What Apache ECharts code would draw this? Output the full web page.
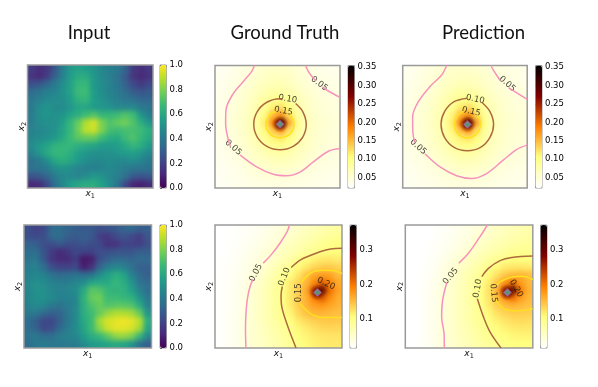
<!DOCTYPE html>
<html><head><meta charset="utf-8">
<style>html,body{margin:0;padding:0;background:#fff}#c{width:598px;height:387px}</style>
<script src="https://cdn.jsdelivr.net/npm/echarts@6/dist/echarts.min.js"></script>
</head><body><div id="c"></div>
<script>
// Values. Input grids in hundredths, field grids in thousandths. Top row first.
const input1=[
[18,13,16,27,43,53,57,55,51,47,43,41,32,17,13,17],
[15,11,18,31,43,55,61,61,53,47,43,37,28,15,11,15],
[24,27,33,41,49,57,66,66,53,49,45,39,31,22,17,22],
[35,39,43,45,51,57,68,68,55,49,45,41,35,29,26,29],
[39,43,47,49,49,55,64,66,55,51,47,43,39,37,33,33],
[40,48,52,48,48,52,58,58,54,52,50,46,46,46,40,38],
[42,50,52,50,52,58,62,68,72,66,66,68,72,68,52,42],
[42,48,50,50,56,66,76,88,94,80,72,76,78,72,62,52],
[44,46,48,50,58,66,78,90,92,80,70,68,70,70,68,62],
[46,48,50,54,60,68,74,76,76,68,62,60,68,72,66,60],
[48,54,58,64,66,66,62,60,58,54,54,56,60,66,62,54],
[44,52,60,66,66,62,56,52,50,50,50,52,54,56,52,46],
[37,41,49,59,63,59,53,49,47,47,49,47,47,49,45,41],
[37,39,41,49,51,49,45,43,43,45,47,45,41,39,39,37],
[26,28,33,41,47,47,45,49,53,51,47,43,37,28,26,28],
[11,13,22,37,47,55,59,62,62,57,49,39,22,11,9,13]];
const input2=[
[24,20,22,34,36,32,30,28,28,24,26,28,32,34,30,30],
[24,22,24,34,36,30,28,30,28,18,16,22,26,22,18,26],
[32,30,24,24,28,24,24,26,24,22,14,14,20,20,18,24],
[36,36,26,18,12,16,22,20,20,24,24,26,26,26,30,30],
[38,40,28,16,12,12,18,6,8,24,30,34,34,32,34,34],
[42,44,36,24,20,20,22,8,14,32,42,46,44,38,30,30],
[44,46,44,38,34,36,38,36,38,48,56,62,58,44,34,30],
[46,50,48,44,42,42,46,48,58,60,60,66,62,52,38,34],
[46,50,50,46,44,46,48,60,74,72,66,64,64,56,44,36],
[46,50,50,48,44,44,46,64,76,78,68,68,66,64,52,40],
[44,48,46,40,38,42,46,62,72,76,72,74,74,72,62,44],
[40,40,34,30,32,40,46,62,68,76,84,88,88,86,76,52],
[36,30,22,22,30,40,48,60,68,86,94,96,98,96,90,62],
[36,32,22,24,34,42,48,58,68,82,92,96,96,94,86,58],
[38,40,36,36,42,44,46,54,62,66,74,82,84,80,66,46],
[36,40,42,40,40,42,42,48,54,56,58,60,58,52,38,30]];
const truth1=[
[31,33,37,42,47,52,56,58,58,55,50,46,41,38,36,35],
[32,35,39,44,49,55,60,63,63,60,54,48,43,40,38,37],
[34,37,41,47,52,60,66,70,70,66,58,52,46,42,40,39],
[35,38,44,50,57,66,75,80,80,76,66,56,50,45,43,41],
[36,40,46,52,60,72,84,94,97,88,74,62,54,49,45,43],
[36,41,47,54,64,78,95,115,125,105,82,66,56,50,46,44],
[37,43,49,56,66,84,108,150,175,125,90,70,58,52,48,45],
[38,44,50,58,68,86,118,190,330,165,98,72,60,54,50,47],
[37,43,49,56,66,84,108,145,170,125,90,70,59,52,49,47],
[36,41,47,54,64,78,95,112,120,104,82,66,58,52,48,46],
[35,40,45,52,60,70,83,92,96,88,74,64,56,50,47,45],
[34,38,42,48,56,63,72,78,80,76,66,59,53,48,45,43],
[33,36,39,44,51,57,62,67,68,65,60,54,49,45,43,41],
[31,34,37,41,46,50,54,57,58,56,52,48,44,42,40,38],
[30,33,36,38,42,45,46,48,48,47,45,43,41,39,37,36],
[29,32,34,36,38,40,41,42,42,41,40,39,38,36,35,34]];
const pred1=[
[33,36,39,44,48,53,56,57,57,54,50,47,43,41,39,37],
[34,37,42,46,51,56,60,62,62,60,55,50,46,43,40,38],
[36,39,43,48,54,61,66,70,70,66,60,54,48,44,42,40],
[37,41,45,51,58,67,76,82,82,77,67,58,52,47,44,42],
[38,42,48,54,62,73,86,96,99,90,76,64,56,51,46,44],
[39,44,49,56,66,80,98,118,128,108,84,68,58,52,48,46],
[40,45,50,58,68,86,112,155,180,128,92,72,60,54,50,47],
[40,46,51,59,70,88,120,195,330,170,100,74,61,55,51,48],
[40,45,50,58,68,86,112,150,175,128,92,72,60,54,50,48],
[39,44,49,56,66,80,98,116,124,106,84,68,59,53,49,47],
[38,42,47,54,62,72,85,95,98,90,76,65,57,52,48,45],
[37,40,44,51,58,65,74,81,82,78,68,60,54,49,46,44],
[35,38,41,46,53,59,64,69,70,67,61,55,50,46,44,42],
[33,36,39,42,47,52,56,59,59,57,54,50,46,43,41,40],
[31,34,37,39,43,46,48,50,50,49,47,44,42,40,38,37],
[30,33,35,37,39,41,43,44,44,43,42,41,39,37,36,35]];
const truth2=[
[15,16,18,20,23,27,32,37,42,48,54,60,66,72,78,82],
[15,17,19,22,25,29,35,40,47,53,60,67,74,80,86,90],
[16,18,20,23,27,32,38,45,53,61,68,76,84,92,99,102],
[16,18,21,25,30,36,43,51,60,68,76,85,93,100,104,104],
[17,19,22,27,33,40,47,57,67,78,95,106,115,120,122,118],
[17,20,24,29,36,44,53,65,80,96,108,120,132,140,142,135],
[18,21,25,31,39,48,60,74,90,104,122,145,165,172,168,152],
[18,21,26,33,42,52,66,82,96,118,135,155,185,215,190,165],
[18,22,27,35,46,56,68,84,98,120,140,165,230,325,205,170],
[18,22,27,35,46,56,68,84,99,120,140,160,195,220,185,162],
[18,22,27,35,46,56,69,84,98,118,140,158,172,178,168,158],
[18,22,27,36,47,57,70,84,95,112,134,148,158,158,154,150],
[18,22,28,37,47,57,68,80,92,104,120,130,138,142,144,142],
[18,22,28,37,47,56,66,76,86,97,110,118,126,132,134,132],
[17,22,28,37,47,55,64,73,82,93,104,112,118,122,124,124],
[17,22,28,37,47,54,62,70,80,90,100,108,114,118,120,120]];
const pred2=[
[12,13,15,17,20,24,28,33,38,44,50,56,62,67,71,74],
[12,13,15,18,21,25,30,35,41,48,55,61,67,72,76,79],
[12,14,16,19,23,28,33,40,47,55,62,68,74,80,84,86],
[13,14,17,20,25,31,38,46,54,62,70,77,84,90,93,94],
[13,15,18,22,28,36,45,54,63,72,82,92,100,105,106,104],
[14,16,19,24,32,41,51,61,71,82,95,108,118,122,122,120],
[14,16,20,26,35,45,56,67,78,92,108,125,142,152,156,150],
[14,17,21,28,37,47,58,69,82,97,118,145,175,205,175,155],
[15,17,22,29,38,48,59,70,84,100,124,158,235,325,195,160],
[15,17,22,30,39,49,59,71,85,100,122,150,180,205,175,155],
[15,17,22,30,39,49,59,71,84,98,118,138,152,158,154,148],
[15,17,22,30,39,49,59,71,83,95,110,125,135,140,140,138],
[15,17,22,30,39,48,59,70,81,92,103,114,122,128,130,128],
[15,17,22,30,39,48,58,68,78,88,97,106,113,118,120,120],
[14,17,22,30,39,48,57,66,75,84,92,99,105,110,112,112],
[14,17,22,29,38,47,55,63,71,79,86,92,98,102,104,104]];

// Contour lines (x1, x2 from the top of the panel), split where a label interrupts them.
const truth1Contours={
 '0.05':[[[.315,0],[.293,.05],[.227,.13],[.147,.227],[.088,.363],[.085,.473],[.107,.61],[.125,.66]],
         [[.2,.73],[.333,.828],[.467,.888],[.573,.90],[.68,.87],[.787,.787],[.907,.70],[1,.678]],
         [[.725,0],[.747,.05],[.787,.104],[.81,.125]],[[.86,.175],[.893,.2],[1,.26]]],
 '0.10':[[[.645,.31],[.702,.376],[.73,.48],[.702,.584],[.625,.66],[.52,.688],[.415,.66],[.338,.584],[.31,.48],[.338,.376],[.415,.30],[.52,.272],[.54,.272]]],
 '0.15':[[[.60,.40],[.632,.48],[.60,.558],[.52,.59],[.44,.558],[.408,.48],[.44,.40],[.49,.375]]]};
const pred1Contours={
 '0.05':[[[.353,0],[.313,.077],[.219,.172],[.126,.295],[.08,.418],[.08,.5],[.086,.582],[.10,.63]],
         [[.179,.72],[.30,.828],[.433,.90],[.553,.923],[.674,.882],[.807,.773],[.914,.686],[1,.65]],
         [[.709,0],[.727,.036],[.767,.098],[.785,.125]],[[.85,.18],[.90,.213],[1,.276]]],
 '0.10':[[[.635,.30],[.70,.375],[.73,.481],[.70,.588],[.625,.668],[.519,.695],[.413,.668],[.337,.588],[.308,.481],[.337,.375],[.413,.295],[.519,.267]]],
 '0.15':[[[.60,.40],[.623,.481],[.593,.558],[.519,.59],[.445,.558],[.415,.481],[.445,.404],[.495,.373]]]};
const truth2Contours={
 '0.05':[[[.585,0],[.57,.05],[.51,.15],[.44,.245],[.38,.31]],[[.30,.44],[.276,.50],[.255,.60],[.244,.72],[.24,.85],[.244,1]]],
 '0.10':[[[1,.19],[.91,.195],[.827,.217],[.745,.25],[.67,.285],[.60,.345]],[[.53,.50],[.52,.57],[.525,.66],[.57,.815],[.638,1]]],
 '0.15':[[[1,.394],[.93,.37],[.853,.367],[.79,.375],[.748,.394],[.70,.44],[.68,.47]],[[.67,.64],[.735,.707],[.79,.74],[.853,.753],[1,.753]]]};
const pred2Contours={
 '0.05':[[[.644,0],[.586,.095],[.495,.23],[.42,.31]],[[.325,.47],[.293,.61],[.285,.747],[.304,.883],[.306,1]]],
 '0.10':[[[1,.253],[.835,.264],[.743,.29],[.652,.353],[.60,.42]],[[.565,.60],[.613,.747],[.665,.87],[.751,1]]],
 '0.15':[[[1,.443],[.914,.416],[.822,.427],[.743,.462],[.718,.49]],[[.712,.611],[.783,.6875],[.874,.698],[1,.68]]]};

// Contour labels: x1, x2, text, rotation
const truth1Labels=[[.147,.67,'0.05',-42],[.835,.15,'0.05',-36],[.581,.273,'0.10',-10],[.547,.372,'0.15',-10]];
const pred1Labels=[[.125,.665,'0.05',-42],[.84,.15,'0.05',-42],[.583,.276,'0.10',-12],[.551,.377,'0.15',-12]];
const truth2Labels=[[.323,.389,'0.05',62],[.546,.421,'0.10',68],[.656,.552,'0.15',90],[.874,.476,'0.20',-25]];
const pred2Labels=[[.356,.416,'0.05',50],[.568,.516,'0.10',80],[.692,.552,'0.15',-85],[.869,.516,'0.20',-60]];

const inputTicks=[0,0.2,0.4,0.6,0.8,1.0];
const topFieldTicks=[0.05,0.10,0.15,0.20,0.25,0.30,0.35];
const bottomFieldTicks=[0.1,0.2,0.3];
const titles=['Input','Ground Truth','Prediction'];
const viridis=['#440154','#482878','#3e4989','#31688e','#26828e','#1f9e89','#35b779','#6ece58','#b5de2b','#fde725'];
const afmhot=['#ffffff','#ffff80','#ff8000','#800000','#000000'];
const contourColors={'0.05':'#f792bc','0.10':'#ad6a40','0.15':'#ffe020'};

// Layout: panel [left, top, width, height], colour bar [left, width]
const panels=[
 {grid:[27.5,65,125.5,123],bar:[160,6.5],vals:input1,scale:100,vmin:0,vmax:1,ticks:inputTicks,dec:1,colors:viridis},
 {grid:[215,65.5,125,122.5],bar:[348,6.5],vals:truth1,scale:1000,vmin:.022,vmax:.354,ticks:topFieldTicks,dec:2,colors:afmhot,contours:truth1Contours,labels:truth1Labels,peak:[.52,.48]},
 {grid:[402.7,65.5,124.5,122.5],bar:[535.5,6.5],vals:pred1,scale:1000,vmin:.022,vmax:.354,ticks:topFieldTicks,dec:2,colors:afmhot,contours:pred1Contours,labels:pred1Labels,peak:[.519,.481]},
 {grid:[24,225,127.5,123],bar:[160,6.5],vals:input2,scale:100,vmin:0,vmax:1,ticks:inputTicks,dec:1,colors:viridis},
 {grid:[215,225,127,123],bar:[350,6.5],vals:truth2,scale:1000,vmin:.016,vmax:.372,ticks:bottomFieldTicks,dec:1,colors:afmhot,contours:truth2Contours,labels:truth2Labels,peak:[.806,.549]},
 {grid:[405.3,225,127.5,123],bar:[540.5,6.5],vals:pred2,scale:1000,vmin:.016,vmax:.372,ticks:bottomFieldTicks,dec:1,colors:afmhot,contours:pred2Contours,labels:pred2Labels,peak:[.80,.549]}
];

const grids=[],xAxes=[],yAxes=[],series=[],visualMaps=[];
const nameRich={i:{fontFamily:'DejaVu Sans',fontStyle:'italic',fontSize:9,color:'#111'},s:{fontFamily:'DejaVu Sans',fontSize:6.5,color:'#111',verticalAlign:'bottom',padding:[5,0,0,0]}};
const N=16, cats=Array.from({length:N+2},(_,i)=>i);
panels.forEach((p,k)=>{
  const [l,t,w,h]=p.grid, cw=w/N, ch=h/N;
  const hi=grids.length;
  grids.push({left:l-cw,top:t-ch,width:w+2*cw,height:h+2*ch,zlevel:0});
  xAxes.push({gridIndex:hi,type:'category',data:cats,show:false});
  yAxes.push({gridIndex:hi,type:'category',data:cats,inverse:true,show:false});
  const heat=[];
  for(let r=-1;r<=N;r++)for(let c=-1;c<=N;c++){
    const rr=Math.min(N-1,Math.max(0,r)),cc=Math.min(N-1,Math.max(0,c));
    heat.push([c+1,r+1,p.vals[rr][cc]/p.scale]);
  }
  const si=series.length;
  series.push({type:'heatmap',xAxisIndex:hi,yAxisIndex:hi,data:heat,zlevel:0,progressive:0,silent:true});
  visualMaps.push({type:'continuous',seriesIndex:si,min:p.vmin,max:p.vmax,inRange:{color:p.colors,symbolSize:[p.bar[1],p.bar[1]]},show:true,
    left:p.bar[0],top:t,itemWidth:p.bar[1],itemHeight:h,showLabel:false,text:null,calculable:false,realtime:false,zlevel:1,hoverLink:false,padding:0});
  const gi=grids.length;
  grids.push({left:l,top:t,width:w,height:h,show:true,borderColor:'#9a9a9a',borderWidth:1.5,backgroundColor:'transparent',zlevel:1});
  xAxes.push({gridIndex:gi,type:'value',min:0,max:1,position:'bottom',splitLine:{show:false},axisLine:{show:false},axisTick:{show:false},axisLabel:{show:false},zlevel:1,
    name:'{i|x}{s|1}',nameLocation:'middle',nameGap:0,nameTextStyle:{rich:nameRich}});
  yAxes.push({gridIndex:gi,type:'value',min:0,max:1,inverse:true,splitLine:{show:false},axisLine:{show:false},axisTick:{show:false},axisLabel:{show:false},zlevel:1,
    name:'{i|x}{s|2}',nameLocation:'middle',nameGap:0,nameRotate:90,nameTextStyle:{rich:nameRich}});
  if(p.contours){
    Object.keys(p.contours).forEach(level=>p.contours[level].forEach(seg=>series.push({type:'line',xAxisIndex:gi,yAxisIndex:gi,data:seg,smooth:.35,showSymbol:false,symbol:'none',zlevel:1,silent:true,clip:true,
      lineStyle:{color:contourColors[level],width:1.5}})));
    const c=p.peak;
    series.push({type:'scatter',xAxisIndex:gi,yAxisIndex:gi,zlevel:1,silent:true,symbol:'circle',symbolSize:17,data:[c],
      itemStyle:{opacity:1,color:{type:'radial',x:.5,y:.5,r:.5,colorStops:[{offset:0,color:'rgba(80,5,0,.9)'},{offset:.5,color:'rgba(120,15,0,.6)'},{offset:1,color:'rgba(180,50,0,0)'}]}}});
    series.push({type:'scatter',xAxisIndex:gi,yAxisIndex:gi,zlevel:1,silent:true,symbol:'diamond',symbolSize:8,data:[c],itemStyle:{opacity:1,color:'#85808a',borderColor:'#9c4f88',borderWidth:1}});
    series.push({type:'scatter',xAxisIndex:gi,yAxisIndex:gi,zlevel:1,silent:true,symbol:'diamond',symbolSize:4,data:[c],itemStyle:{opacity:1,color:'#4f9a70'}});
    series.push({type:'scatter',xAxisIndex:gi,yAxisIndex:gi,symbolSize:0,zlevel:1,silent:true,
      data:p.labels.map(a=>({value:[a[0],a[1]],label:{show:true,position:'inside',formatter:a[2],rotate:a[3],fontFamily:'DejaVu Sans',fontSize:8.5,color:'#111'}}))});
  }
  const bi=grids.length;
  grids.push({left:p.bar[0],top:t,width:p.bar[1],height:h,show:true,borderColor:'#9a9a9a',borderWidth:1,backgroundColor:'transparent',zlevel:1});
  xAxes.push({gridIndex:bi,type:'value',min:0,max:1,show:false});
  yAxes.push({gridIndex:bi,type:'value',min:p.vmin,max:p.vmax,position:'right',splitLine:{show:false},axisLine:{show:false},zlevel:1,
    axisTick:{show:true,length:2,lineStyle:{color:'#555',width:.8},customValues:p.ticks},
    axisLabel:{fontFamily:'DejaVu Sans',fontSize:8.5,color:'#000',margin:3,customValues:p.ticks,formatter:v=>v.toFixed(p.dec)}});
});

const titleCenters=[84,280,478.5];
const chart=echarts.init(document.getElementById('c'),null,{renderer:'canvas'});
chart.setOption({
  animation:false,backgroundColor:'transparent',
  title:titles.map((t,i)=>({text:t,left:titleCenters[i],top:19,textAlign:'center',zlevel:1,textStyle:{fontFamily:'Lato',fontWeight:'normal',fontSize:18.5,color:'#111'}})),
  grid:grids,xAxis:xAxes,yAxis:yAxes,visualMap:visualMaps,series:series,tooltip:{show:false}
});
// soften the field layer the way the source image was interpolated, clipped to the plot frames
const layers=document.querySelectorAll('#c canvas');
const clip=panels.map(p=>{const [l,t,w,h]=p.grid;return `M${l} ${t}H${l+w}V${t+h}H${l}Z`;}).join(' ');
layers[0].style.filter='blur(2.6px)';
layers[0].style.clipPath=`path("${clip}")`;
if(layers[1])layers[1].style.filter='blur(0.3px)';
</script></body></html>
